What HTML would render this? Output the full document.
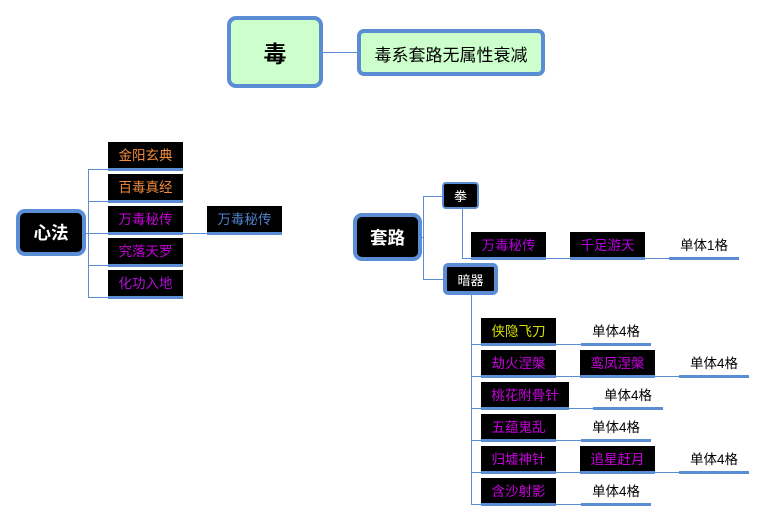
<!DOCTYPE html>
<html><head><meta charset="utf-8">
<style>
html,body{margin:0;padding:0;background:#fff;}
body{width:767px;height:522px;position:relative;overflow:hidden;font-family:"Liberation Sans","Noto Sans CJK SC",sans-serif;}
.l{position:absolute;background:#5b8dd5;}
.b{position:absolute;background:#000;text-align:center;font-size:13.5px;border-bottom:3px solid #5b8dd5;white-space:nowrap;padding-top:2px;}
.p{position:absolute;text-align:center;font-size:13.5px;color:#000;border-bottom:3px solid #5b8dd5;white-space:nowrap;}
.bx{position:absolute;box-sizing:border-box;border:4px solid #5b8dd5;display:flex;align-items:center;justify-content:center;white-space:nowrap;}
.or{color:#f28a3c;}
.mg{color:#c800dc;}
.ye{color:#d4e000;}
.bl{color:#4f82cc;}
</style></head><body>

<!-- top -->
<div class="bx" style="left:227px;top:16px;width:96px;height:72px;border-radius:9px;background:#ccffcc;font-size:23px;font-weight:bold;color:#000;">毒</div>
<div class="l" style="left:323px;top:52px;width:34px;height:1px;"></div>
<div class="bx" style="left:357px;top:29px;width:188px;height:47px;border-radius:7px;background:#ccffcc;font-size:17px;color:#000;padding-top:1px;">毒系套路无属性衰减</div>

<!-- 心法 -->
<div class="bx" style="left:16px;top:209px;width:70px;height:47px;border-radius:9px;background:#000;font-size:17.5px;font-weight:bold;color:#fff;">心法</div>
<div class="l" style="left:86px;top:233px;width:2px;height:1px;"></div>
<div class="l" style="left:88px;top:169px;width:1px;height:129px;"></div>
<div class="l" style="left:88px;top:169px;width:20px;height:1px;"></div>
<div class="l" style="left:88px;top:201px;width:20px;height:1px;"></div>
<div class="l" style="left:88px;top:233px;width:20px;height:1px;"></div>
<div class="l" style="left:88px;top:265px;width:20px;height:1px;"></div>
<div class="l" style="left:88px;top:297px;width:20px;height:1px;"></div>

<div class="b or" style="left:108px;top:142px;width:75px;height:24px;line-height:24px;">金阳玄典</div>
<div class="b or" style="left:108px;top:174px;width:75px;height:24px;line-height:24px;">百毒真经</div>
<div class="b mg" style="left:108px;top:206px;width:75px;height:24px;line-height:24px;">万毒秘传</div>
<div class="b mg" style="left:108px;top:238px;width:75px;height:24px;line-height:24px;">究落天罗</div>
<div class="b mg" style="left:108px;top:270px;width:75px;height:24px;line-height:24px;color:#b010d8;">化功入地</div>
<div class="l" style="left:183px;top:233px;width:24px;height:1px;"></div>
<div class="b bl" style="left:207px;top:206px;width:75px;height:24px;line-height:24px;">万毒秘传</div>

<!-- 套路 -->
<div class="bx" style="left:353px;top:213px;width:69px;height:48px;border-radius:9px;background:#000;font-size:17.5px;font-weight:bold;color:#fff;">套路</div>
<div class="l" style="left:422px;top:237px;width:1px;height:1px;"></div>
<div class="l" style="left:423px;top:196px;width:1px;height:84px;"></div>
<div class="l" style="left:423px;top:196px;width:19px;height:1px;"></div>
<div class="l" style="left:423px;top:279px;width:20px;height:1px;"></div>

<div class="bx" style="left:442px;top:182px;width:37px;height:27px;border-width:2px;border-radius:4px;background:#000;font-size:13px;color:#fff;">拳</div>
<div class="bx" style="left:443px;top:263px;width:55px;height:32px;border-radius:5px;background:#000;font-size:13px;color:#fff;">暗器</div>

<!-- 拳 branch -->
<div class="l" style="left:462px;top:209px;width:1px;height:50px;"></div>
<div class="l" style="left:462px;top:258px;width:9px;height:1px;"></div>
<div class="b mg" style="left:471px;top:232px;width:75px;height:23px;line-height:23px;color:#b400e0;">万毒秘传</div>
<div class="l" style="left:546px;top:258px;width:24px;height:1px;"></div>
<div class="b mg" style="left:570px;top:232px;width:75px;height:23px;line-height:23px;color:#b400e0;">千足游天</div>
<div class="l" style="left:645px;top:258px;width:24px;height:1px;"></div>
<div class="p" style="left:669px;top:235px;width:70px;height:22px;line-height:22px;">单体1格</div>

<!-- 暗器 branch -->
<div class="l" style="left:471px;top:295px;width:1px;height:210px;"></div>
<div class="l" style="left:471px;top:344px;width:10px;height:1px;"></div>
<div class="l" style="left:471px;top:376px;width:10px;height:1px;"></div>
<div class="l" style="left:471px;top:408px;width:10px;height:1px;"></div>
<div class="l" style="left:471px;top:440px;width:10px;height:1px;"></div>
<div class="l" style="left:471px;top:472px;width:10px;height:1px;"></div>
<div class="l" style="left:471px;top:504px;width:10px;height:1px;"></div>

<!-- row 1 -->
<div class="b ye" style="left:481px;top:318px;width:75px;height:23px;line-height:23px;">侠隐飞刀</div>
<div class="l" style="left:556px;top:344px;width:25px;height:1px;"></div>
<div class="p" style="left:581px;top:321px;width:70px;height:22px;line-height:22px;">单体4格</div>

<!-- row 2 -->
<div class="b mg" style="left:481px;top:350px;width:75px;height:23px;line-height:23px;">劫火涅槃</div>
<div class="l" style="left:556px;top:376px;width:24px;height:1px;"></div>
<div class="b mg" style="left:580px;top:350px;width:75px;height:23px;line-height:23px;">鸾凤涅槃</div>
<div class="l" style="left:655px;top:376px;width:24px;height:1px;"></div>
<div class="p" style="left:679px;top:353px;width:70px;height:22px;line-height:22px;">单体4格</div>

<!-- row 3 -->
<div class="b mg" style="left:481px;top:382px;width:88px;height:23px;line-height:23px;">桃花附骨针</div>
<div class="l" style="left:569px;top:408px;width:24px;height:1px;"></div>
<div class="p" style="left:593px;top:385px;width:70px;height:22px;line-height:22px;">单体4格</div>

<!-- row 4 -->
<div class="b mg" style="left:481px;top:414px;width:75px;height:23px;line-height:23px;">五蕴鬼乱</div>
<div class="l" style="left:556px;top:440px;width:25px;height:1px;"></div>
<div class="p" style="left:581px;top:417px;width:70px;height:22px;line-height:22px;">单体4格</div>

<!-- row 5 -->
<div class="b mg" style="left:481px;top:446px;width:75px;height:23px;line-height:23px;">归墟神针</div>
<div class="l" style="left:556px;top:472px;width:24px;height:1px;"></div>
<div class="b mg" style="left:580px;top:446px;width:75px;height:23px;line-height:23px;">追星赶月</div>
<div class="l" style="left:655px;top:472px;width:24px;height:1px;"></div>
<div class="p" style="left:679px;top:449px;width:70px;height:22px;line-height:22px;">单体4格</div>

<!-- row 6 -->
<div class="b mg" style="left:481px;top:478px;width:75px;height:23px;line-height:23px;">含沙射影</div>
<div class="l" style="left:556px;top:504px;width:25px;height:1px;"></div>
<div class="p" style="left:581px;top:481px;width:70px;height:22px;line-height:22px;">单体4格</div>

</body></html>
